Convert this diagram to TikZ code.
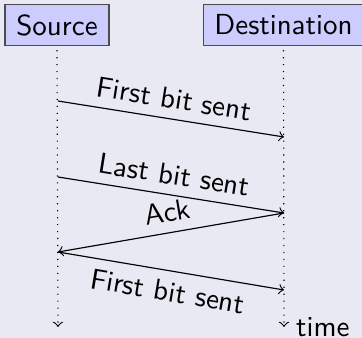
\documentclass[tikz,border=0pt]{standalone}
\usepackage{tikz}
\usetikzlibrary{positioning}
\definecolor{slidebg}{RGB}{233,233,243}
\begin{document}
\sffamily
\begin{tikzpicture}[x=0.345pt, y=-0.345pt,
    actor/.style={draw=black!70, fill=blue!20, inner xsep=3.9pt, minimum height=14.2pt},
    lifeline/.style={dotted, ->},
    msg/.style={->},
    auto]
    \fill[slidebg] (0,0) rectangle (362,338);
    \useasboundingbox (0,0) rectangle (362,338);

    \node[actor]   (src)    at (57,25)  {Source};
    \node[actor]   (dst)    at (283.5,25) {Destination};

    % lifelines
    \coordinate (srcend) at (58,327);
    \coordinate (dstend) at (284,327);
    \draw[lifeline] (src.south) ++(0,4) -- (srcend);
    \draw[lifeline] (dst.south) ++(0,4) -- (dstend);
    \node[anchor=west, inner xsep=4pt] (time) at (dstend) {time};

    % messages
    \coordinate (s1) at (58,101);
    \coordinate (d1) at (284,137);
    \coordinate (s2) at (58,177);
    \coordinate (d2) at (284,213);
    \coordinate (s3) at (58,252);
    \coordinate (d3) at (284,290);

    \draw[msg] (s1) -- node[sloped, above]{First bit sent} (d1);
    \draw[msg] (s2) -- node[sloped, above]{Last bit sent} (d2);
    \draw[msg] (d2) -- node[sloped, above]{Ack} (s3);
    \draw[msg] (s3) -- node[sloped, below]{First bit sent} (d3);
\end{tikzpicture}
\end{document}
